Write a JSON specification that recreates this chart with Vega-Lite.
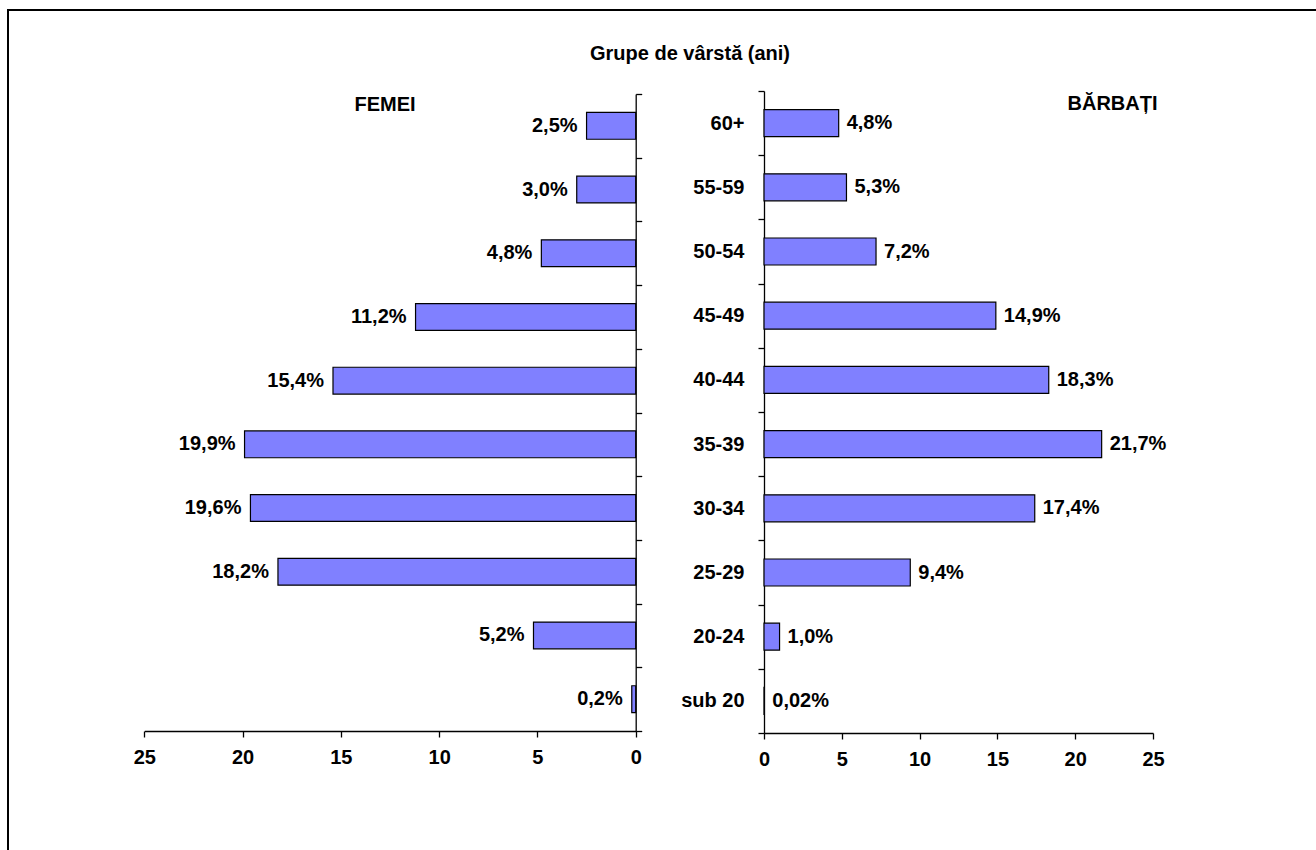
{
  "$schema": "https://vega.github.io/schema/vega-lite/v6.json",
  "width": 1310,
  "height": 860,
  "autosize": {"type": "none"},
  "padding": {"left": 8, "top": 10, "right": 0, "bottom": 0},
  "background": "white",
  "config": {
    "view": {"stroke": "#000000", "strokeWidth": 2},
    "font": "Liberation Sans",
    "axis": {
      "grid": false,
      "domainColor": "#000000",
      "domainWidth": 1.3,
      "tickColor": "#000000",
      "tickWidth": 1.3,
      "tickSize": 6,
      "labelColor": "#000000",
      "labelFont": "Liberation Sans",
      "labelFontSize": 20,
      "labelFontWeight": "bold",
      "labelFlush": false,
      "labelOverlap": false,
      "title": null
    },
    "text": {"font": "Liberation Sans", "fontSize": 20, "fontWeight": "bold", "color": "#000000"}
  },
  "title": {
    "text": "Grupe de vârstă (ani)",
    "anchor": "middle",
    "frame": "group",
    "offset": -64,
    "dx": 27,
    "font": "Liberation Sans",
    "fontSize": 20,
    "fontWeight": "bold",
    "color": "#000000"
  },
  "datasets": {
    "femei": [
      {"grupa": "60+", "procent": 2.5, "eticheta": "2,5%"},
      {"grupa": "55-59", "procent": 3.0, "eticheta": "3,0%"},
      {"grupa": "50-54", "procent": 4.8, "eticheta": "4,8%"},
      {"grupa": "45-49", "procent": 11.2, "eticheta": "11,2%"},
      {"grupa": "40-44", "procent": 15.4, "eticheta": "15,4%"},
      {"grupa": "35-39", "procent": 19.9, "eticheta": "19,9%"},
      {"grupa": "30-34", "procent": 19.6, "eticheta": "19,6%"},
      {"grupa": "25-29", "procent": 18.2, "eticheta": "18,2%"},
      {"grupa": "20-24", "procent": 5.2, "eticheta": "5,2%"},
      {"grupa": "sub 20", "procent": 0.2, "eticheta": "0,2%"}
    ],
    "barbati": [
      {"grupa": "60+", "procent": 4.8, "eticheta": "4,8%"},
      {"grupa": "55-59", "procent": 5.3, "eticheta": "5,3%"},
      {"grupa": "50-54", "procent": 7.2, "eticheta": "7,2%"},
      {"grupa": "45-49", "procent": 14.9, "eticheta": "14,9%"},
      {"grupa": "40-44", "procent": 18.3, "eticheta": "18,3%"},
      {"grupa": "35-39", "procent": 21.7, "eticheta": "21,7%"},
      {"grupa": "30-34", "procent": 17.4, "eticheta": "17,4%"},
      {"grupa": "25-29", "procent": 9.4, "eticheta": "9,4%"},
      {"grupa": "20-24", "procent": 1.0, "eticheta": "1,0%"},
      {"grupa": "sub 20", "procent": 0.02, "eticheta": "0,02%"}
    ]
  },
  "layer": [
    {
      "data": {"name": "femei"},
      "layer": [
        {
          "mark": {"type": "bar", "fill": "#8080FF", "stroke": "#000000", "strokeWidth": 1.2, "height": {"band": 0.42}},
          "encoding": {
            "x": {
              "field": "procent", "type": "quantitative",
              "scale": {"domain": [0, 25], "range": [627.7, 136.3], "nice": false, "zero": true},
              "axis": {"orient": "bottom", "offset": -139, "values": [0, 5, 10, 15, 20, 25], "labelPadding": 10}
            },
            "y": {
              "field": "grupa", "type": "nominal",
              "scale": {"domain": ["60+", "55-59", "50-54", "45-49", "40-44", "35-39", "30-34", "25-29", "20-24", "sub 20"], "range": [84, 721], "paddingInner": 0, "paddingOuter": 0},
              "axis": {"orient": "right", "offset": -682.3, "labels": false, "tickBand": "extent"}
            }
          }
        },
        {
          "mark": {"type": "text", "align": "right", "baseline": "middle", "dx": -9},
          "encoding": {
            "x": {"field": "procent", "type": "quantitative"},
            "y": {"field": "grupa", "type": "nominal"},
            "text": {"field": "eticheta"}
          }
        },
        {
          "data": {"values": [{"panou": "FEMEI"}]},
          "mark": {"type": "text", "align": "center", "baseline": "middle", "dy": -21},
          "encoding": {
            "x": {"datum": 12.75, "type": "quantitative"},
            "y": {"datum": "60+", "type": "nominal"},
            "text": {"field": "panou"}
          }
        }
      ]
    },
    {
      "data": {"name": "barbati"},
      "layer": [
        {
          "mark": {"type": "bar", "fill": "#8080FF", "stroke": "#000000", "strokeWidth": 1.2, "height": {"band": 0.42}},
          "encoding": {
            "x": {
              "field": "procent", "type": "quantitative",
              "scale": {"domain": [0, 25], "range": [756, 1145], "nice": false, "zero": true},
              "axis": {"orient": "bottom", "offset": -137, "values": [0, 5, 10, 15, 20, 25], "labelPadding": 10}
            },
            "y": {
              "field": "grupa", "type": "nominal",
              "scale": {"domain": ["60+", "55-59", "50-54", "45-49", "40-44", "35-39", "30-34", "25-29", "20-24", "sub 20"], "range": [81, 723], "paddingInner": 0, "paddingOuter": 0},
              "axis": {"orient": "left", "offset": -756, "labelPadding": 14, "tickBand": "extent"}
            }
          }
        },
        {
          "mark": {"type": "text", "align": "left", "baseline": "middle", "dx": 8},
          "encoding": {
            "x": {"field": "procent", "type": "quantitative"},
            "y": {"field": "grupa", "type": "nominal"},
            "text": {"field": "eticheta"}
          }
        },
        {
          "data": {"values": [{"panou": "BĂRBAȚI"}]},
          "mark": {"type": "text", "align": "center", "baseline": "middle", "dy": -19},
          "encoding": {
            "x": {"datum": 22.4, "type": "quantitative"},
            "y": {"datum": "60+", "type": "nominal"},
            "text": {"field": "panou"}
          }
        }
      ]
    }
  ],
  "resolve": {"scale": {"x": "independent", "y": "independent"}}
}
